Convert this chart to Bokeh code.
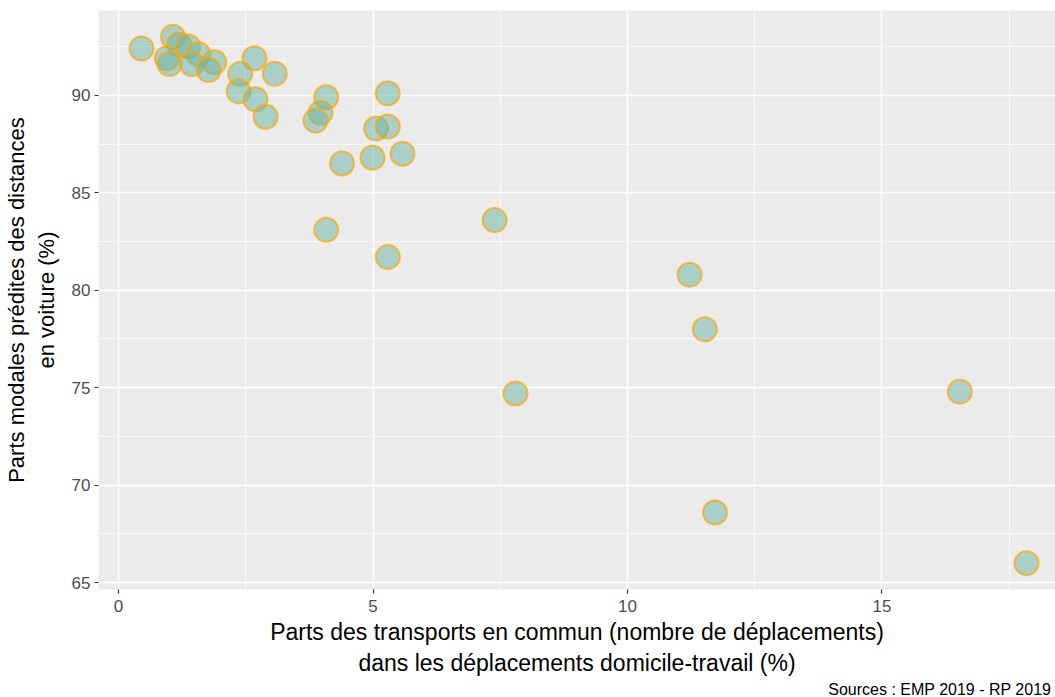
from bokeh.plotting import figure
from bokeh.models import Range1d, FixedTicker, Title
from bokeh.embed import file_html
from bokeh.resources import INLINE

# Public transport share of home-work trips (%)
pt_share = [0.45, 1.07, 1.19, 1.37, 0.95, 1.0, 1.57, 1.44, 1.88, 1.77,
            2.67, 2.39, 3.07, 2.36, 2.69, 2.89, 4.08, 3.97, 3.87, 5.29,
            5.06, 5.29, 4.39, 4.99, 5.58, 4.08, 5.29, 7.39, 11.22, 11.52,
            7.80, 16.53, 11.72, 17.84]
# Predicted modal share of car distances (%)
car_share = [92.4, 93.0, 92.6, 92.5, 91.9, 91.6, 92.1, 91.6, 91.7, 91.3,
             91.9, 91.1, 91.1, 90.2, 89.8, 88.9, 89.9, 89.1, 88.7, 90.1,
             88.3, 88.4, 86.5, 86.8, 87.0, 83.1, 81.7, 83.6, 80.8, 78.0,
             74.7, 74.8, 68.6, 66.0]

x_ticks = [0, 5, 10, 15]
y_ticks = [65, 70, 75, 80, 85, 90]
x_minor = [2.5, 7.5, 12.5, 17.5]
y_minor = [67.5, 72.5, 77.5, 82.5, 87.5, 92.5]

FONT = "Liberation Sans"

p = figure(width=1055, height=697, output_backend="svg", toolbar_location=None,
           x_range=Range1d(-0.394, 18.41), y_range=Range1d(64.65, 94.35),
           min_border_left=96, min_border_right=0, min_border_top=10,
           min_border_bottom=100)

p.background_fill_color = "#EBEBEB"
p.border_fill_color = "white"
p.outline_line_color = None

p.xaxis.ticker = FixedTicker(ticks=x_ticks, minor_ticks=x_minor)
p.yaxis.ticker = FixedTicker(ticks=y_ticks, minor_ticks=y_minor)

for g in (p.xgrid, p.ygrid):
    g.grid_line_color = "white"
    g.grid_line_width = 1.4
    g.minor_grid_line_color = "white"
    g.minor_grid_line_width = 0.7

for ax in (p.xaxis, p.yaxis):
    ax.axis_line_color = None
    ax.major_tick_line_color = "#333333"
    ax.major_tick_line_width = 1.2
    ax.major_tick_out = 4
    ax.major_tick_in = 0
    ax.minor_tick_line_color = None
    ax.major_label_text_font = FONT
    ax.major_label_text_font_size = "17px"
    ax.major_label_text_color = "#4D4D4D"
    ax.axis_label_text_font = FONT
    ax.axis_label_text_font_style = "normal"
    ax.axis_label_text_color = "black"

p.xaxis.axis_label_text_font_size = "23px"
p.yaxis.axis_label_text_font_size = "22px"
p.xaxis.axis_label = "Parts des transports en commun (nombre de déplacements)\ndans les déplacements domicile-travail (%)"
p.yaxis.axis_label = "Parts modales prédites des distances\nen voiture (%)"
p.xaxis.major_label_standoff = 6
p.yaxis.major_label_standoff = 4
p.xaxis.axis_label_standoff = 4
p.yaxis.axis_label_standoff = 10

p.scatter(pt_share, car_share, size=24, fill_color="#69b3a2", fill_alpha=0.5,
          line_color="orange", line_alpha=0.7, line_width=2)

src = Title(text="Sources : EMP 2019 - RP 2019", align="right",
            text_font=FONT, text_font_size="16px", text_font_style="normal",
            text_color="black", standoff=0, offset=4)
p.add_layout(src, "below")

open("out.html", "w").write(file_html(p, INLINE))
